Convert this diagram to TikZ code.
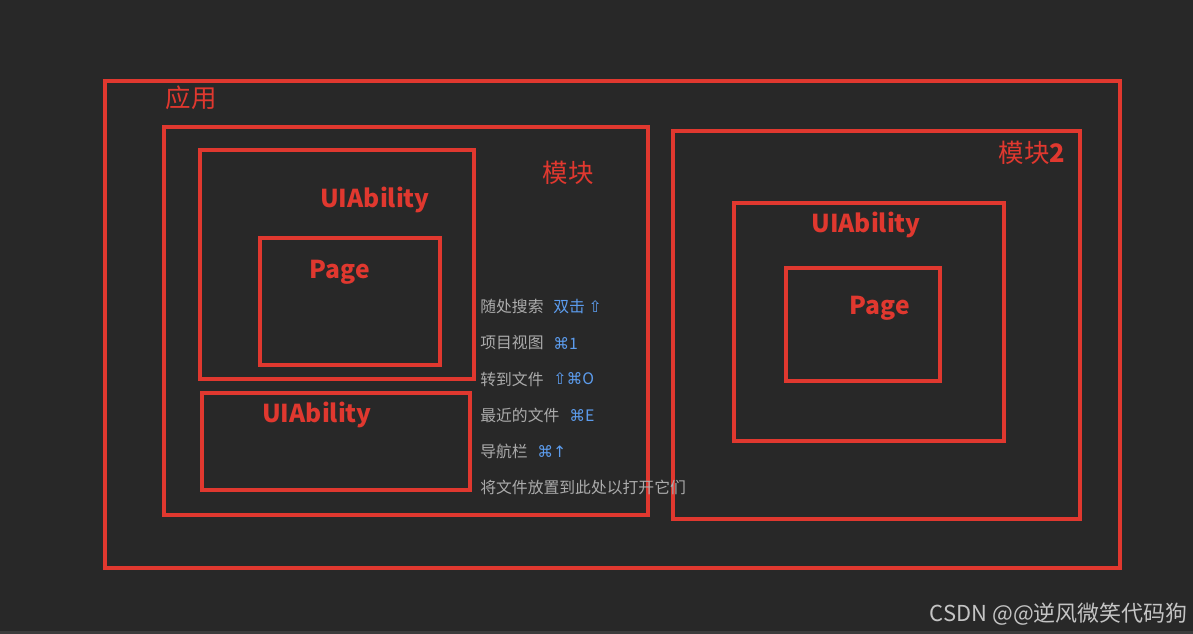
\documentclass[tikz,border=0pt]{standalone}
\usepackage{fontspec}
\newfontfamily\cjk{Noto Sans CJK SC}
\newfontfamily\symfont{DejaVu Sans}
\definecolor{bgdark}{HTML}{282828}
\definecolor{stripgrey}{HTML}{3C3C3C}
\definecolor{framered}{HTML}{E0382F}
\definecolor{hintgrey}{HTML}{ABABAB}
\definecolor{keyblue}{HTML}{5C9CED}
\definecolor{markgrey}{HTML}{C4C4C4}

\begin{document}
\begin{tikzpicture}[
    x=0.02cm, y=-0.02cm,
    frame/.style={
        draw=framered,
        line width=1.8pt
    },
    title/.style={
        text=framered,
        inner sep=0pt,
        font=\cjk\fontsize{14.5}{16}\selectfont
    },
    ability/.style={
        text=framered,
        inner sep=0pt,
        font=\cjk\bfseries\fontsize{14}{16}\selectfont
    },
    hint/.style={
        anchor=west,
        text=hintgrey,
        inner sep=0pt,
        font=\cjk\fontsize{9}{10}\selectfont
    },
    key/.style={
        anchor=west,
        text=keyblue,
        inner sep=0pt,
        font=\cjk\fontsize{9}{10}\selectfont
    }
]

% background
\fill[bgdark] (0,0) rectangle (1193,634);
\fill[stripgrey] (0,631) rectangle (1193,634);

% frames
\draw[frame] (105,81) rectangle (1120,568);
\draw[frame] (164,127) rectangle (648,515);
\draw[frame] (200,150) rectangle (474,379);
\draw[frame] (260,238) rectangle (440,365);
\draw[frame] (202,393) rectangle (470,490);
\draw[frame] (673,131) rectangle (1080,519);
\draw[frame] (734,203) rectangle (1004,441);
\draw[frame] (786,268) rectangle (940,381);

% titles
\node[title] (app) at (191,98) {应用};
\node[title] (module) at (568,173) {模块};
\node[title] (module2) at (1032,153) {模块\textbf{2}};

\node[ability] (ability1) at (375,200) {UIAbility};
\node[ability] (page1) at (340,272) {Page};
\node[ability] (ability2) at (317,415) {UIAbility};
\node[ability] (ability3) at (866,225) {UIAbility};
\node[ability] (page2) at (880,308) {Page};

% shortcut hints
\node[hint] (search) at (480,307) {随处搜索};
\node[key] (searchkey) at (553,307) {双击 {\symfont ⇧}};
\node[hint] (project) at (480,343) {项目视图};
\node[key] (projectkey) at (553,343) {{\symfont ⌘}1};
\node[hint] (gofile) at (480,379) {转到文件};
\node[key] (gofilekey) at (553,379) {{\symfont ⇧⌘}O};
\node[hint] (recent) at (480,415) {最近的文件};
\node[key] (recentkey) at (569,415) {{\symfont ⌘}E};
\node[hint] (navbar) at (480,451) {导航栏};
\node[key] (navbarkey) at (537,451) {{\symfont ⌘↑}};
\node[hint] (drop) at (480,487) {将文件放置到此处以打开它们};

% watermark
\node[anchor=east, text=markgrey, inner sep=0pt,
      font=\cjk\fontsize{12.5}{14}\selectfont] (mark) at (1188,614) {CSDN @@逆风微笑代码狗};

\end{tikzpicture}
\end{document}
